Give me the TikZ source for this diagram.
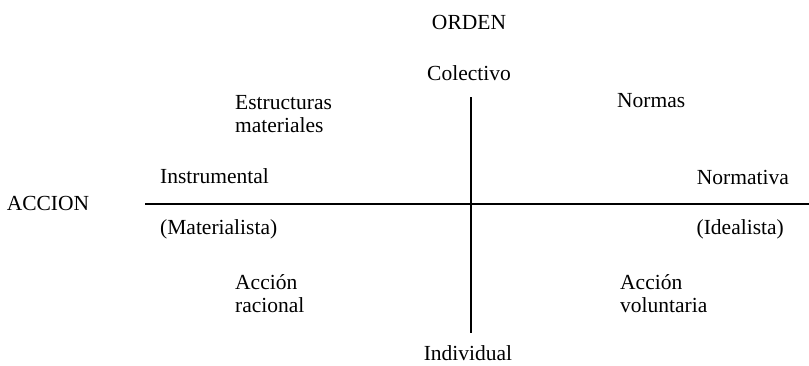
\documentclass[tikz,border=0pt]{standalone}
\usepackage{fontspec}
\setmainfont{Liberation Serif}
\begin{document}
\begin{tikzpicture}[x=1pt,y=-1pt,
    lbl/.style={inner sep=0pt, font=\fontsize{21.5}{23}\selectfont, align=left},
    axis/.style={line width=2.4pt}]
\useasboundingbox (0,0) rectangle (809,365);
% axis labels
\foreach \k/\x/\y/\t in {ord/469/22/ORDEN, col/469/73/Colectivo, ind/468/353/Individual, acc/48/203/ACCION}
    \node[lbl] (\k) at (\x,\y) {\t};
% quadrant labels, left aligned
\foreach \k/\x/\y/\t in {est/235/114/{Estructuras\\materiales}, nor/617/101/Normas, ins/160/176/Instrumental,
    mat/160/229/(Materialista), rac/235/294/{Acción\\racional}, vol/620/294/{Acción\\voluntaria}}
    \node[lbl, anchor=west] (\k) at (\x,\y) {\t};
% right aligned
\foreach \k/\x/\y/\t in {nva/789/177/Normativa, ide/784/229/(Idealista)}
    \node[lbl, anchor=east] (\k) at (\x,\y) {\t};
\coordinate (top) at (471,97);
\coordinate (bot) at (471,333);
\coordinate (lft) at (145,204);
\coordinate (rgt) at (809,204);
\draw[axis] (top) -- (bot);
\draw[axis] (lft) -- (rgt);
\end{tikzpicture}
\end{document}
